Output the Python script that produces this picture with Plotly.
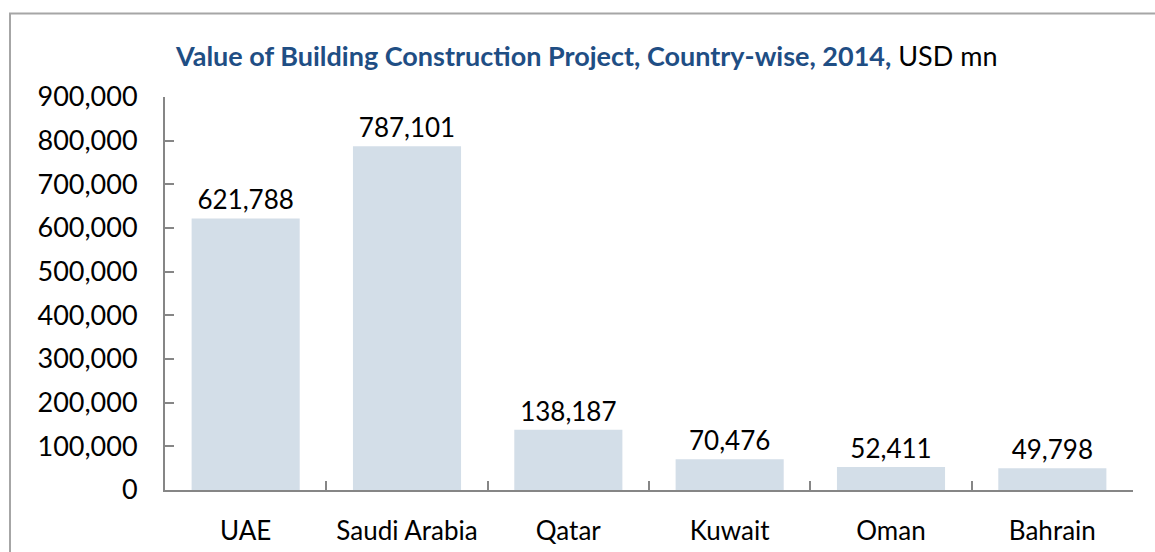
import plotly.graph_objects as go

countries = ["UAE", "Saudi Arabia", "Qatar", "Kuwait", "Oman", "Bahrain"]
values = [621788, 787101, 138187, 70476, 52411, 49798]
y_ticks = [0, 100000, 200000, 300000, 400000, 500000, 600000, 700000, 800000, 900000]
y_tick_labels = ["0", "100,000", "200,000", "300,000", "400,000", "500,000",
                 "600,000", "700,000", "800,000", "900,000"]

FONT = "Lato, 'Open Sans', sans-serif"
AXIS_GREY = "#868686"

fig = go.Figure(
    go.Bar(
        x=countries,
        y=values,
        marker=dict(color="#D3DEE8", line=dict(width=0)),
        texttemplate="%{y:,}",
        textposition="outside",
        textfont=dict(family=FONT, size=26, color="#000000"),
        cliponaxis=False,
        hoverinfo="skip",
    )
)

fig.update_layout(
    width=1155,
    height=552,
    margin=dict(l=165, r=22, t=97, b=62, autoexpand=False),
    paper_bgcolor="white",
    plot_bgcolor="white",
    bargap=0.33,
    showlegend=False,
    font=dict(family=FONT, color="#000000"),
    annotations=[
        dict(
            text="<b>Value of Building Construction Project, Country-wise, 2014,</b>"
                 "<span style='color:#000000'> USD mn</span>",
            xref="paper", yref="paper",
            x=(586 - 165) / 968, y=1 + (97 - 55) / 393,
            xanchor="center", yanchor="middle",
            showarrow=False,
            font=dict(family=FONT, size=27, color="#1F4E84"),
        )
    ],
    shapes=[
        # outer chart frame (its right and bottom edges fall outside the page)
        dict(
            type="rect", xref="paper", yref="paper",
            x0=(10 - 165) / 968, x1=(1170 - 165) / 968,
            y0=-(575 - 490) / 393, y1=1 + (97 - 13.5) / 393,
            line=dict(color="#A6A6A6", width=2),
            fillcolor="rgba(0,0,0,0)",
            layer="below",
        )
    ],
)

fig.update_xaxes(
    automargin=False,
    showline=True, linecolor=AXIS_GREY, linewidth=2,
    ticks="inside", tickson="boundaries", ticklen=9, tickwidth=2, tickcolor=AXIS_GREY,
    tickfont=dict(family=FONT, size=26, color="#000000"),
    ticklabelstandoff=17,
    showgrid=False, zeroline=False, fixedrange=True,
)
fig.update_yaxes(
    automargin=False,
    range=[0, 900000],
    tickvals=y_ticks, ticktext=y_tick_labels,
    showline=True, linecolor=AXIS_GREY, linewidth=2,
    ticks="inside", ticklen=9, tickwidth=2, tickcolor=AXIS_GREY,
    tickfont=dict(family=FONT, size=27, color="#000000"),
    ticklabelstandoff=20,
    showgrid=False, zeroline=False, fixedrange=True,
)

fig.write_html("out.html")
